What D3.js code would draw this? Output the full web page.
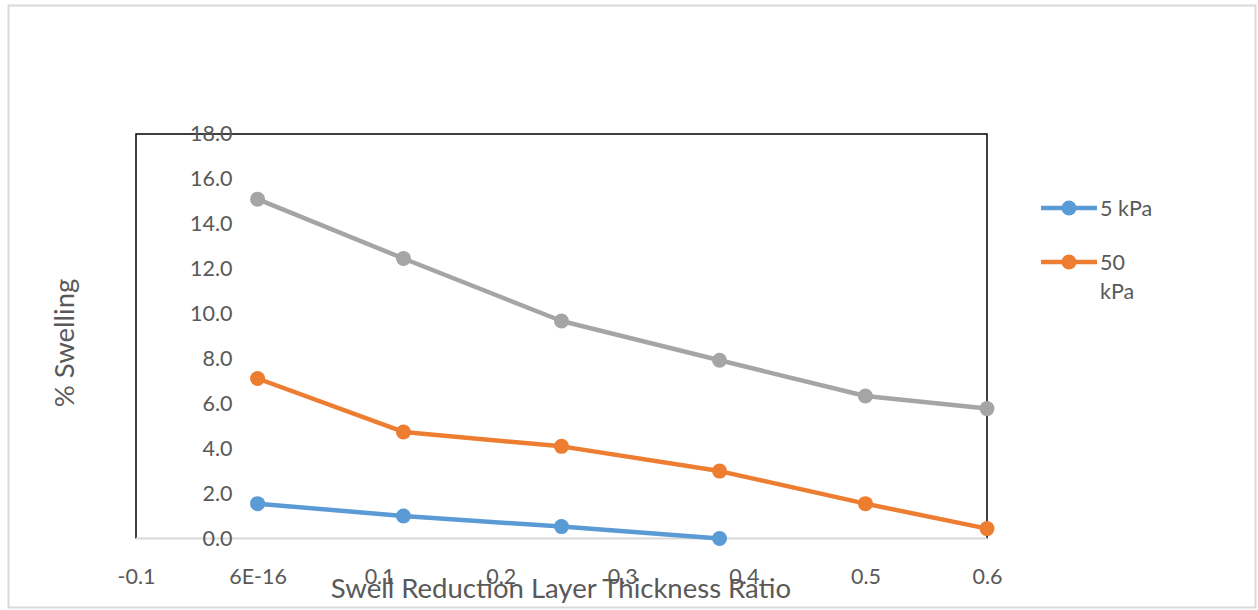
<!DOCTYPE html>
<html>
<head>
<meta charset="utf-8">
<script src="https://cdn.jsdelivr.net/npm/d3@7"></script>
<style>
  html, body { margin: 0; padding: 0; background: #fff; }
  svg { display: block; }
  text { font-family: Lato, "Open Sans", "Liberation Sans", sans-serif; fill: #595959; }
</style>
</head>
<body>
<svg id="chart" width="1258" height="610"></svg>
<script>
// ---- data ----
const xValues = [0, 0.12, 0.25, 0.38, 0.5, 0.6];
const series5kPa = [1.55, 1.0, 0.53, 0.0];
const series50kPa = [7.12, 4.74, 4.1, 3.0, 1.55, 0.44];
const seriesGray = [15.1, 12.46, 9.68, 7.93, 6.34, 5.78];
const seriesNames = ["5 kPa", "50 kPa", ""];
const xTickValues = [-0.1, 0, 0.1, 0.2, 0.3, 0.4, 0.5, 0.6];
const xTickLabels = ["-0.1", "6E-16", "0.1", "0.2", "0.3", "0.4", "0.5", "0.6"];
const yTickValues = [0, 2, 4, 6, 8, 10, 12, 14, 16, 18];
const xTitle = "Swell Reduction Layer Thickness Ratio";
const yTitle = "% Swelling";

const colors = ["#5B9BD5", "#ED7D31", "#A5A5A5"];
const tickFont = "21.5px";
const titleFont = "27.5px";

const svg = d3.select("#chart");

// outer chart border
svg.append("rect").attr("x", 8.5).attr("y", 5.5).attr("width", 1247).attr("height", 602)
  .attr("fill", "#fff").attr("stroke", "#d9d9d9").attr("stroke-width", 2);

const x = d3.scaleLinear().domain([-0.1, 0.6]).range([136, 987]);
const y = d3.scaleLinear().domain([0, 18]).range([538.5, 134]);

// plot area box (black left/top/right)
svg.append("path")
  .attr("d", `M${x(-0.1)},${y(0)} V${y(18)} H${x(0.6)} V${y(0)}`)
  .attr("fill", "none").attr("stroke", "#000").attr("stroke-width", 1.5);

// x axis line (gray)
svg.append("line").attr("x1", x(-0.1)).attr("x2", x(0.6)).attr("y1", y(0)).attr("y2", y(0))
  .attr("stroke", "#d9d9d9").attr("stroke-width", 2);

// y tick labels (placed next to x=0 crossing)
const yAxis = d3.axisLeft(y).tickValues(yTickValues).tickFormat(d3.format(".1f")).tickSize(0).tickPadding(0);
const gy = svg.append("g").attr("transform", `translate(${x(0) - 25},0)`).call(yAxis);
gy.select(".domain").remove();
gy.selectAll("text").style("font-size", tickFont).style("fill", "#595959").attr("font-family", null);

// x tick labels
const xAxis = d3.axisBottom(x).tickValues(xTickValues)
  .tickFormat((d, i) => xTickLabels[i]).tickSize(0).tickPadding(0);
const gx = svg.append("g").attr("transform", `translate(0,${y(0) + 30})`).call(xAxis);
gx.select(".domain").remove();
gx.selectAll("text").style("font-size", tickFont).style("fill", "#595959").attr("font-family", null);

// axis titles
svg.append("text").attr("x", 561).attr("y", 598).attr("text-anchor", "middle")
  .style("font-size", titleFont).text(xTitle);
svg.append("text").attr("transform", "translate(74,343) rotate(-90)").attr("text-anchor", "middle")
  .style("font-size", titleFont).text(yTitle);

// series
const allSeries = [series5kPa, series50kPa, seriesGray];
const line = d3.line().x(d => x(d[0])).y(d => y(d[1]));
[2, 1, 0].forEach(i => {
  const pts = allSeries[i].map((v, j) => [xValues[j], v]);
  const g = svg.append("g");
  g.append("path").attr("d", line(pts)).attr("fill", "none")
    .attr("stroke", colors[i]).attr("stroke-width", 4.5).attr("stroke-linejoin", "round");
  g.selectAll("circle").data(pts).join("circle")
    .attr("cx", d => x(d[0])).attr("cy", d => y(d[1])).attr("r", 7.5).attr("fill", colors[i]);
});

// legend
const legend = svg.append("g");
[0, 1].forEach(i => {
  const ly = [208, 262][i];
  legend.append("line").attr("x1", 1041).attr("x2", 1097).attr("y1", ly).attr("y2", ly)
    .attr("stroke", colors[i]).attr("stroke-width", 4.5);
  legend.append("circle").attr("cx", 1069).attr("cy", ly).attr("r", 7.5).attr("fill", colors[i]);
});
legend.append("text").attr("x", 1100).attr("y", 216).style("font-size", tickFont).text(seriesNames[0]);
const t2 = legend.append("text").attr("x", 1100).attr("y", 270).style("font-size", tickFont);
const parts = seriesNames[1].split(" ");
t2.append("tspan").attr("x", 1100).text(parts[0]);
t2.append("tspan").attr("x", 1100).attr("dy", 29).text(parts[1]);
</script>
</body>
</html>
